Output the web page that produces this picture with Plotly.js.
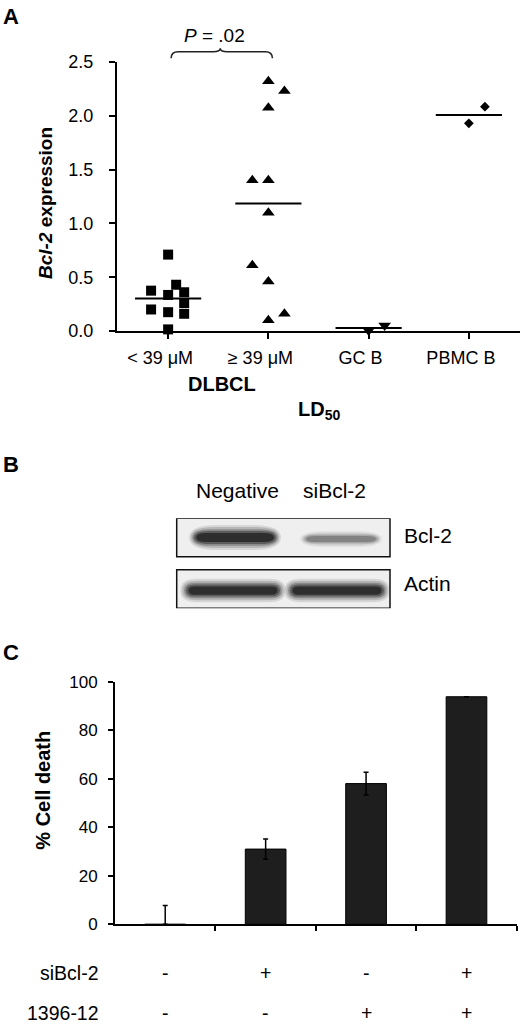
<!DOCTYPE html>
<html><head><meta charset="utf-8">
<script src="https://cdn.plot.ly/plotly-3.0.1.min.js"></script>
<style>html,body{margin:0;padding:0;background:#fff}</style>
</head><body><div id="chart" style="width:520px;height:1025px"></div>
<script>
// ---------- Panel A data ----------
const groupLabels = ['< 39 μM', '≥ 39 μM', 'GC B', 'PBMC B'];
const lowLD50Jitter = [0, -0.17, 0.08, 0, 0.16, 0.16, -0.17, 0, 0.16, 0];
const lowLD50Y = [0.71, 0.375, 0.43, 0.335, 0.36, 0.26, 0.20, 0.175, 0.16, 0.015];
const highLD50Jitter = [0, 0.16, 0, -0.16, 0, 0, -0.16, 0, 0.16, 0];
const highLD50Y = [2.32, 2.23, 2.075, 1.40, 1.40, 1.10, 0.61, 0.46, 0.16, 0.10];
const gcbJitter = [0, 0.16];
const gcbY = [0.005, 0.05];
const pbmcJitter = [0, 0.16];
const pbmcY = [1.93, 2.085];
const yTicksA = [0, 0.5, 1.0, 1.5, 2.0, 2.5];

// ---------- Panel B data ----------
const lanes = ['Negative', 'siBcl-2'];
const proteins = ['Bcl-2', 'Actin'];
const bcl2Intensity = [1.0, 0.4];
const actinIntensity = [1.0, 1.0];

// ---------- Panel C data ----------
const rowLabels = ['siBcl-2', '1396-12'];
const siBcl2Row = ['-', '+', '-', '+'];
const drugRow = ['-', '-', '+', '+'];
const cellDeath = [0, 31, 58, 93.8];
const errPlus = [7.7, 4.2, 4.7, 0];
const errMinus = [0, 4.2, 4.7, 0];
const yTicksC = [0, 20, 40, 60, 80, 100];

// ---------- helpers ----------
const W = 520, H = 1025;
const px = x => x / W;
const py = y => 1 - y / H;
const FONT = 'Liberation Sans, Arial, sans-serif';
const mean = a => a.reduce((s, v) => s + v, 0) / a.length;

const groups = [
  {jit: lowLD50Jitter, y: lowLD50Y, sym: 'square', size: 10},
  {jit: highLD50Jitter, y: highLD50Y, sym: 'triangle-up', size: 11},
  {jit: gcbJitter, y: gcbY, sym: 'triangle-down', size: 11},
  {jit: pbmcJitter, y: pbmcY, sym: 'diamond', size: 7.5}
];

const traces = [];
groups.forEach((g, i) => {
  traces.push({
    type: 'scatter', mode: 'markers', xaxis: 'x', yaxis: 'y',
    x: g.jit.map(j => i + j), y: g.y, cliponaxis: false,
    marker: {symbol: g.sym, size: g.size, color: '#000', line: {width: 0}},
    showlegend: false, hoverinfo: 'skip'
  });
  const m = mean(g.y);
  traces.push({
    type: 'scatter', mode: 'lines', xaxis: 'x', yaxis: 'y',
    x: [i - 0.33, i + 0.33], y: [m, m], cliponaxis: false,
    line: {color: '#000', width: 2}, showlegend: false, hoverinfo: 'skip'
  });
});

// Panel C bars
traces.push({
  type: 'bar', xaxis: 'x3', yaxis: 'y3',
  x: cellDeath.map((_, i) => i), y: cellDeath, width: 0.405,
  marker: {color: '#1e1e1e', line: {color: '#000', width: 1}},
  error_y: {type: 'data', symmetric: false, array: errPlus, arrayminus: errMinus,
            color: '#000', thickness: 1.5, width: 2.5},
  showlegend: false, hoverinfo: 'skip'
});

// ---------- shapes ----------
const shapes = [];
// brace over first two groups
shapes.push({
  type: 'path', xref: 'x', yref: 'y domain',
  path: 'M 0.03,1.014 Q 0.03,1.038 0.1,1.038 L 0.45,1.038 Q 0.52,1.038 0.52,1.051 ' +
        'Q 0.52,1.038 0.59,1.038 L 0.97,1.038 Q 1.04,1.038 1.04,1.014',
  line: {color: '#222', width: 1.5}
});

// western blot
function pill(cx, cy, hw, hh, rx) {
  rx = Math.min(rx, hw * 0.9);
  const l = cx - hw, r = cx + hw, t = cy + hh, b = cy - hh;
  return `M ${l + rx},${t} L ${r - rx},${t} Q ${r},${t} ${r},${cy} Q ${r},${b} ${r - rx},${b} ` +
         `L ${l + rx},${b} Q ${l},${b} ${l},${cy} Q ${l},${t} ${l + rx},${t} Z`;
}
const blurLayers = [[1.10, 1.75, 0.10], [1.06, 1.45, 0.16], [1.02, 1.15, 0.26], [0.98, 0.9, 0.36], [0.93, 0.62, 0.55]];
proteins.forEach((p, r) => {
  const rowY = proteins.length - 1 - r;
  shapes.push({type: 'rect', xref: 'x2 domain', yref: 'y2', x0: 0, x1: 1,
    y0: rowY - 0.373, y1: rowY + 0.373, fillcolor: '#efefef',
    line: {color: '#111', width: 1.5}, layer: 'below'});
  const inten = p === 'Bcl-2' ? bcl2Intensity : actinIntensity;
  inten.forEach((v, li) => {
    const isB = p === 'Bcl-2';
    const baseHW = isB ? 0.34 + 0.07 * v : 0.47;
    const hh = isB ? 0.06 + 0.08 * v : 0.13;
    const cy = rowY - (isB ? 0.05 * (1 - v) : 0.03);
    const cx = li + (isB ? 0.04 * li : -0.02 * (1 - li));
    blurLayers.forEach(([sw, sh, op]) => {
      shapes.push({type: 'path', xref: 'x2', yref: 'y2',
        path: pill(cx, cy, baseHW * sw, hh * sh, (isB ? 0.16 : 0.09) * sh),
        fillcolor: '#0a0a0a', opacity: op * v, line: {width: 0}});
    });
  });
});

// ---------- annotations ----------
const ann = [];
const txt = (t, size, x, y, extra) => Object.assign({text: t, x, y, xref: 'paper', yref: 'paper',
  xanchor: 'center', yanchor: 'middle', showarrow: false,
  font: {family: FONT, size, color: '#000'}}, extra || {});
ann.push(txt('<b>A</b>', 22, px(11), py(16)));
ann.push(txt('<b>B</b>', 22, px(11), py(465)));
ann.push(txt('<b>C</b>', 22, px(11), py(652)));
ann.push(txt('<i>P</i> = .02', 19, 0.46, py(35.5), {xref: 'x'}));
ann.push(txt('<b><i>Bcl-2</i> expression</b>', 19, px(46), py(203), {textangle: -90}));
ann.push(txt('<b>DLBCL</b>', 20, 0.54, py(384), {xref: 'x'}));
ann.push(txt('<b>LD<sub>50</sub></b>', 20, 1.5, py(410), {xref: 'x'}));
// panel B labels
lanes.forEach((l, i) => ann.push(txt(l, 21, i + (i ? -0.02 : 0.025), py(490), {xref: 'x2'})));
proteins.forEach((p, r) => ann.push(txt(p, 21, px(401.7), proteins.length - 1 - r,
  {xanchor: 'left', yref: 'y2', yshift: r ? 5 : 2})));
// panel C
ann.push(txt('<b>% Cell death</b>', 20, px(42.7), py(790), {textangle: -90}));
const rowsY = [py(972.5), py(1012.5)];
[siBcl2Row, drugRow].forEach((row, r) => {
  ann.push(txt(rowLabels[r], 19.5, px(100), rowsY[r], {xanchor: 'right', borderpad: 0}));
  row.forEach((s, i) => ann.push(txt(s, 19.5, i, rowsY[r], {xref: 'x3', borderpad: 0})));
});

const axBase = {showgrid: false, zeroline: false, showline: true, linecolor: '#000', linewidth: 2,
  ticks: 'outside', tickcolor: '#000', tickwidth: 2, fixedrange: true};

const layout = {
  width: W, height: H, margin: {l: 0, r: 0, t: 0, b: 0},
  paper_bgcolor: '#fff', plot_bgcolor: 'rgba(0,0,0,0)',
  font: {family: FONT, color: '#000'},
  showlegend: false,
  xaxis: Object.assign({}, axBase, {domain: [px(117), 1], range: [-0.51, 3.51], anchor: 'y',
    tickvals: [0, 1, 2, 3], ticktext: groupLabels, ticklen: 6,
    tickfont: {size: 18}, ticklabelshift: -8, ticklabelstandoff: 3}),
  yaxis: Object.assign({}, axBase, {domain: [py(331), py(62)], range: [0, 2.5], anchor: 'x',
    tickvals: yTicksA, tickformat: '.1f', ticklen: 6, tickfont: {size: 18}, ticklabelstandoff: 12}),
  xaxis2: {domain: [px(176.7), px(390)], range: [-0.572, 1.52], anchor: 'y2', visible: false, fixedrange: true},
  yaxis2: {domain: [py(608.3), py(518.3)], range: [-0.375, 1.373], anchor: 'x2', visible: false, fixedrange: true},
  xaxis3: Object.assign({}, axBase, {domain: [px(115), px(516.7)], range: [-0.5, 3.5], anchor: 'y3',
    tickvals: [0.5, 1.5, 2.5, 3.5], showticklabels: false, ticklen: 5}),
  yaxis3: Object.assign({}, axBase, {domain: [py(924.3), py(681.7)], range: [0, 100], anchor: 'x3',
    tickvals: yTicksC, ticklen: 5, tickfont: {size: 17}, ticklabelstandoff: 7}),
  shapes: shapes,
  annotations: ann
};

Plotly.newPlot('chart', traces, layout, {staticPlot: true, displayModeBar: false});
</script></body></html>
